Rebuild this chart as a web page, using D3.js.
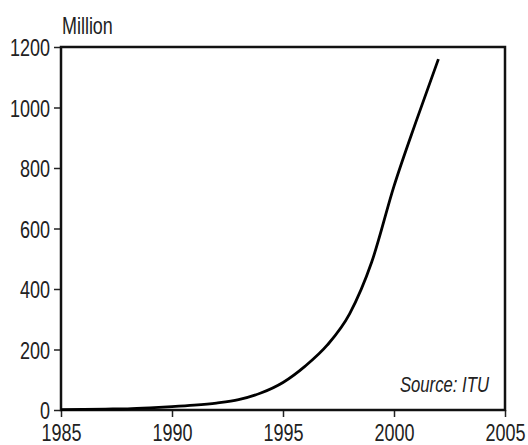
<!DOCTYPE html>
<html lang="en">
<head>
  <meta charset="UTF-8">
  <title>Million subscribers</title>
  <script src="https://cdn.jsdelivr.net/npm/d3@7"></script>
  <style>
    body { margin: 0; background: #fff; }
  </style>
</head>
<body>
</body>
<script>
  const years = [1985, 1986, 1987, 1988, 1989, 1990, 1991, 1992, 1993, 1994, 1995, 1996, 1997, 1998, 1999, 2000, 2001, 2002]
  const values = [1, 2, 3, 4, 7, 11, 16, 23, 34, 56, 91, 145, 215, 318, 490, 740, 955, 1160]
  const xTicks = [1985, 1990, 1995, 2000, 2005]
  const yTicks = [0, 200, 400, 600, 800, 1000, 1200]

  drawChart()

  function drawChart() {
    const width = 528
    const height = 445
    const margin = { top: 47, right: 23, bottom: 35, left: 61 }
    const font = '"Liberation Sans", Arial, sans-serif'
    const squeeze = 0.75 // narrow look of the original lettering
    const data = years.map((yr, i) => ({ year: yr, value: values[i] }))

    const svg = d3.select('body').append('svg').attr('width', width).attr('height', height)

    const x = d3.scaleLinear()
      .domain([1985, 2005])
      .range([margin.left, width - margin.right])

    const y = d3.scaleLinear()
      .domain([0, 1200])
      .range([height - margin.bottom, margin.top])

    const xAxis = g => g
      .attr('transform', `translate(0,${height - margin.bottom})`)
      .style('font-family', font).style('font-size', '24px').style('color', '#222')
      .call(d3.axisBottom(x).tickValues(xTicks).tickFormat(d3.format('d')).tickSize(7).tickPadding(7))
      .call(g => g.select('.domain').remove())
      .call(g => g.selectAll('line').attr('stroke-width', 1.5))
      .call(g => g.selectAll('text').attr('transform', `scale(${squeeze},1)`))

    const yAxis = g => g
      .attr('transform', `translate(${margin.left},0)`)
      .style('font-family', font).style('font-size', '24px').style('color', '#222')
      .call(d3.axisLeft(y).tickValues(yTicks).tickFormat(d3.format('d')).tickSize(7).tickPadding(3))
      .call(g => g.select('.domain').remove())
      .call(g => g.selectAll('line').attr('stroke-width', 1.5))
      .call(g => g.selectAll('text').attr('dy', '0.36em').attr('x', -11 / squeeze)
        .attr('transform', `scale(${squeeze},1)`))

    svg.append('g').call(xAxis)
    svg.append('g').call(yAxis)

    // frame
    svg.append('rect')
      .attr('x', margin.left).attr('y', margin.top)
      .attr('width', width - margin.left - margin.right)
      .attr('height', height - margin.top - margin.bottom)
      .attr('fill', 'none').attr('stroke', '#111').attr('stroke-width', 2.5)

    // curve
    const line = d3.line()
      .x(d => x(d.year))
      .y(d => y(d.value))
      .curve(d3.curveMonotoneX)

    svg.append('path')
      .datum(data)
      .attr('fill', 'none')
      .attr('stroke', '#000')
      .attr('stroke-width', 2.8)
      .attr('stroke-linejoin', 'round')
      .attr('d', line)

    // unit label
    svg.append('text')
      .attr('transform', `translate(${margin.left + 1},34) scale(0.78,1)`)
      .style('font-family', font).style('font-size', '23px')
      .attr('fill', '#222')
      .text('Million')

    // source
    svg.append('text')
      .attr('transform', `translate(${x(2005) - 16},392) scale(0.76,1)`)
      .attr('text-anchor', 'end')
      .style('font-family', font).style('font-size', '22px').style('font-style', 'italic')
      .attr('fill', '#222')
      .text('Source: ITU')
  }
</script>
</html>
